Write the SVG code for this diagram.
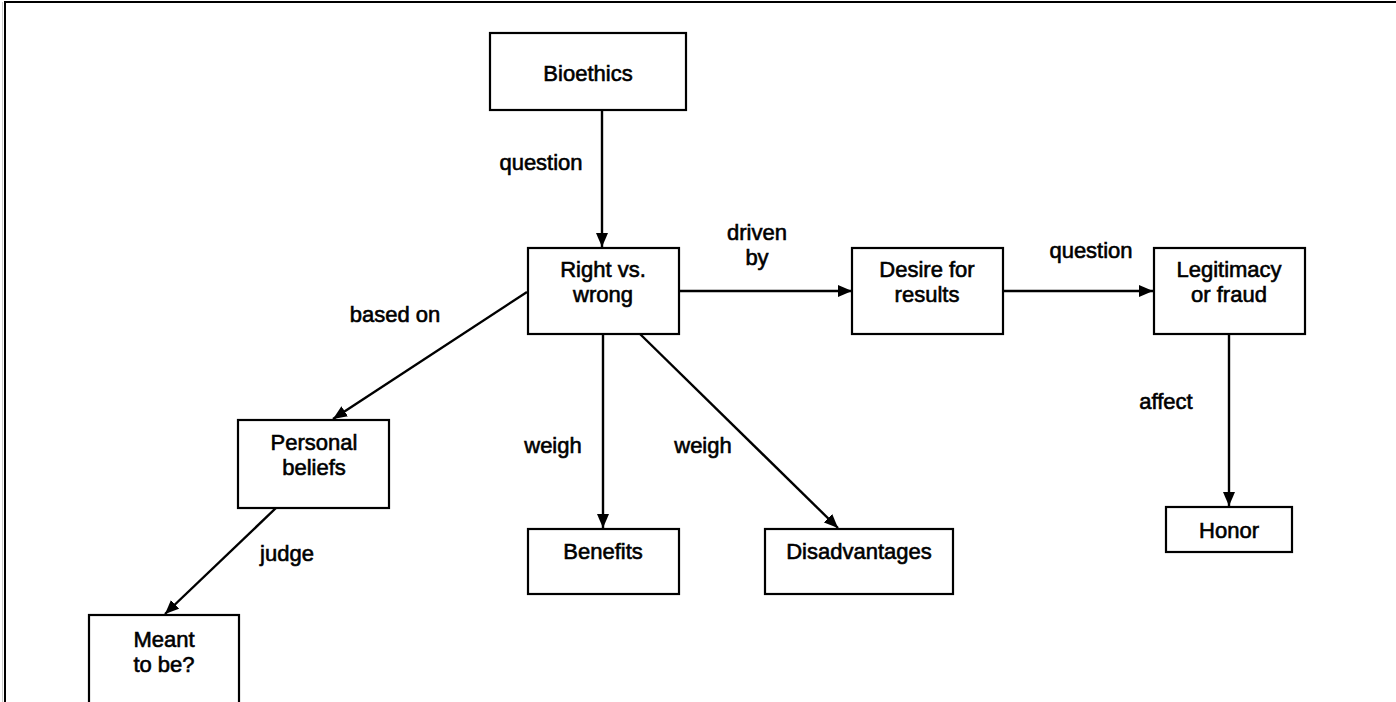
<svg xmlns="http://www.w3.org/2000/svg" width="1396" height="702" viewBox="0 0 1396 702">
<style>
.box{fill:#fff;stroke:#000;stroke-width:2.2}
.t{font-family:"Liberation Sans",Arial,sans-serif;font-size:22px;fill:#000;text-anchor:middle;stroke:#000;stroke-width:0.6}
.c{stroke:#000;stroke-width:2.4;fill:none;marker-end:url(#ah)}
.frame{stroke:#000;stroke-width:2;fill:none}
</style>
<defs>
<marker id="ah" viewBox="0 0 14 12" refX="14" refY="6" markerWidth="14" markerHeight="12" markerUnits="userSpaceOnUse" orient="auto">
<path d="M0,0 L14,6 L0,12 Z" fill="#000"/>
</marker>
</defs>
<rect width="1396" height="702" fill="#fff"/>
<path class="frame" d="M5,702 V2 H1396"/>
<line x1="2.5" y1="2" x2="2.5" y2="702" stroke="#ccc" stroke-width="1"/>
<g id="connectors">
<line class="c" x1="602" y1="110" x2="602" y2="247"/>
<line class="c" x1="679" y1="291" x2="852" y2="291"/>
<line class="c" x1="1003" y1="291" x2="1153" y2="291"/>
<line class="c" x1="527" y1="292" x2="333" y2="419"/>
<line class="c" x1="276" y1="508" x2="165" y2="614"/>
<line class="c" x1="603" y1="334" x2="603" y2="528"/>
<line class="c" x1="640" y1="334" x2="838" y2="528"/>
<line class="c" x1="1229" y1="334" x2="1229" y2="506"/>
<text class="t" x="541" y="170">question</text>
<text class="t" x="757" y="240">driven</text>
<text class="t" x="757" y="265">by</text>
<text class="t" x="1091" y="258">question</text>
<text class="t" x="395" y="322">based on</text>
<text class="t" x="553" y="453">weigh</text>
<text class="t" x="703" y="453">weigh</text>
<text class="t" x="1166" y="409">affect</text>
<text class="t" x="287" y="561">judge</text>
</g>
<g id="bioethics">
<rect class="box" x="490" y="33" width="196" height="77"/>
<text class="t" x="588" y="81">Bioethics</text>
</g>
<g id="right-vs-wrong">
<rect class="box" x="528" y="248" width="151" height="86"/>
<text class="t" x="603" y="277">Right vs.</text>
<text class="t" x="603" y="302">wrong</text>
</g>
<g id="desire">
<rect class="box" x="852" y="248" width="151" height="86"/>
<text class="t" x="927" y="277">Desire for</text>
<text class="t" x="927" y="302">results</text>
</g>
<g id="legitimacy">
<rect class="box" x="1154" y="248" width="151" height="86"/>
<text class="t" x="1229" y="277">Legitimacy</text>
<text class="t" x="1229" y="302">or fraud</text>
</g>
<g id="honor">
<rect class="box" x="1166" y="507" width="126" height="45"/>
<text class="t" x="1229" y="538">Honor</text>
</g>
<g id="personal-beliefs">
<rect class="box" x="238" y="420" width="151" height="88"/>
<text class="t" x="314" y="450">Personal</text>
<text class="t" x="314" y="475">beliefs</text>
</g>
<g id="meant-to-be">
<rect class="box" x="89" y="615" width="150" height="100"/>
<text class="t" x="164" y="647">Meant</text>
<text class="t" x="164" y="672">to be?</text>
</g>
<g id="benefits">
<rect class="box" x="528" y="529" width="151" height="65"/>
<text class="t" x="603" y="559">Benefits</text>
</g>
<g id="disadvantages">
<rect class="box" x="765" y="529" width="188" height="65"/>
<text class="t" x="859" y="559">Disadvantages</text>
</g>
</svg>
